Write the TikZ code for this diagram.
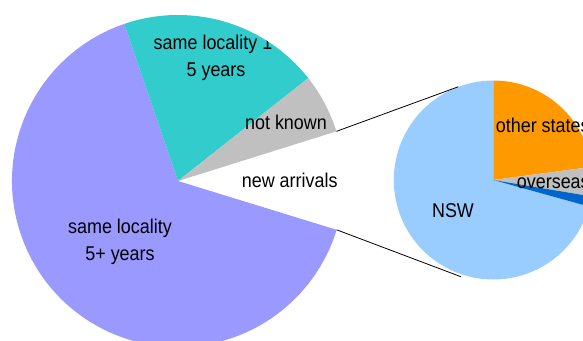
\documentclass[tikz,border=0pt]{standalone}
\usepackage{fontspec}
\setmainfont{Liberation Sans}[FakeStretch=0.9]
\definecolor{lavslice}{HTML}{9999FF}
\definecolor{tealslice}{HTML}{33CCCC}
\definecolor{grayslice}{HTML}{C0C0C0}
\definecolor{orangeslice}{HTML}{FF9900}
\definecolor{skyslice}{HTML}{99CCFF}
\definecolor{blueslice}{HTML}{0066CC}
\begin{document}
\begin{tikzpicture}[x=1bp, y=1bp,
    slicelabel/.style={font=\fontsize{20}{27}\selectfont, inner sep=0pt, align=center}]
    \useasboundingbox (0,0) rectangle (583,340);
    \clip (0,0) rectangle (583,340);

    % Big pie
    \coordinate (big) at (178,159);
    \fill[lavslice] (big) -- ++(108.9:166) arc[start angle=108.9, end angle=342.9, radius=166] -- cycle;
    \fill[tealslice] (big) -- ++(38.3:166) arc[start angle=38.3, end angle=108.9, radius=166] -- cycle;
    \fill[grayslice] (big) -- ++(17.4:166) arc[start angle=17.4, end angle=38.3, radius=166] -- cycle;

    % Labels of the big pie
    \begin{scope}
        \clip (big) circle (166);
        \node[slicelabel] (recent) at (216,282) {same locality 1-\\5 years};
    \end{scope}
    \node[slicelabel, anchor=base] (unknown) at (286,210.7) {not known};
    \node[slicelabel, anchor=base] (arrivals) at (289.7,152.7) {new arrivals};
    \node[slicelabel] (settled) at (120,98.5) {same locality\\5+ years};

    % Small pie
    \coordinate (small) at (493.3,160);
    \fill[skyslice] (small) -- ++(90:99.5) arc[start angle=90, end angle=344.5, radius=99.5] -- cycle;
    \fill[orangeslice] (small) -- ++(7.6:99.5) arc[start angle=7.6, end angle=90, radius=99.5] -- cycle;
    \fill[grayslice] (small) -- ++(-9.5:99.5) arc[start angle=-9.5, end angle=7.6, radius=99.5] -- cycle;
    \fill[blueslice] (small) -- ++(-15.5:99.5) arc[start angle=-15.5, end angle=-9.5, radius=99.5] -- cycle;

    % Connectors
    \coordinate (gaptop) at ([shift={(17.4:166)}]big);
    \coordinate (gapbottom) at ([shift={(-17.1:166)}]big);
    \coordinate (smalltop) at ([shift={(110.6:99.6)}]small);
    \coordinate (smallbottom) at ([shift={(-108.5:102)}]small);
    \draw[line width=0.8bp] (gaptop) -- (smalltop);
    \draw[line width=0.8bp] (gapbottom) -- (smallbottom);

    % Labels of the small pie
    \node[slicelabel, anchor=base] (nsw) at (453,122.3) {NSW};
    \node[slicelabel, anchor=base west] (states) at (495.7,207.3) {other states};
    \node[slicelabel, anchor=base west] (overseas) at (516.7,151.7) {overseas};
\end{tikzpicture}
\end{document}
